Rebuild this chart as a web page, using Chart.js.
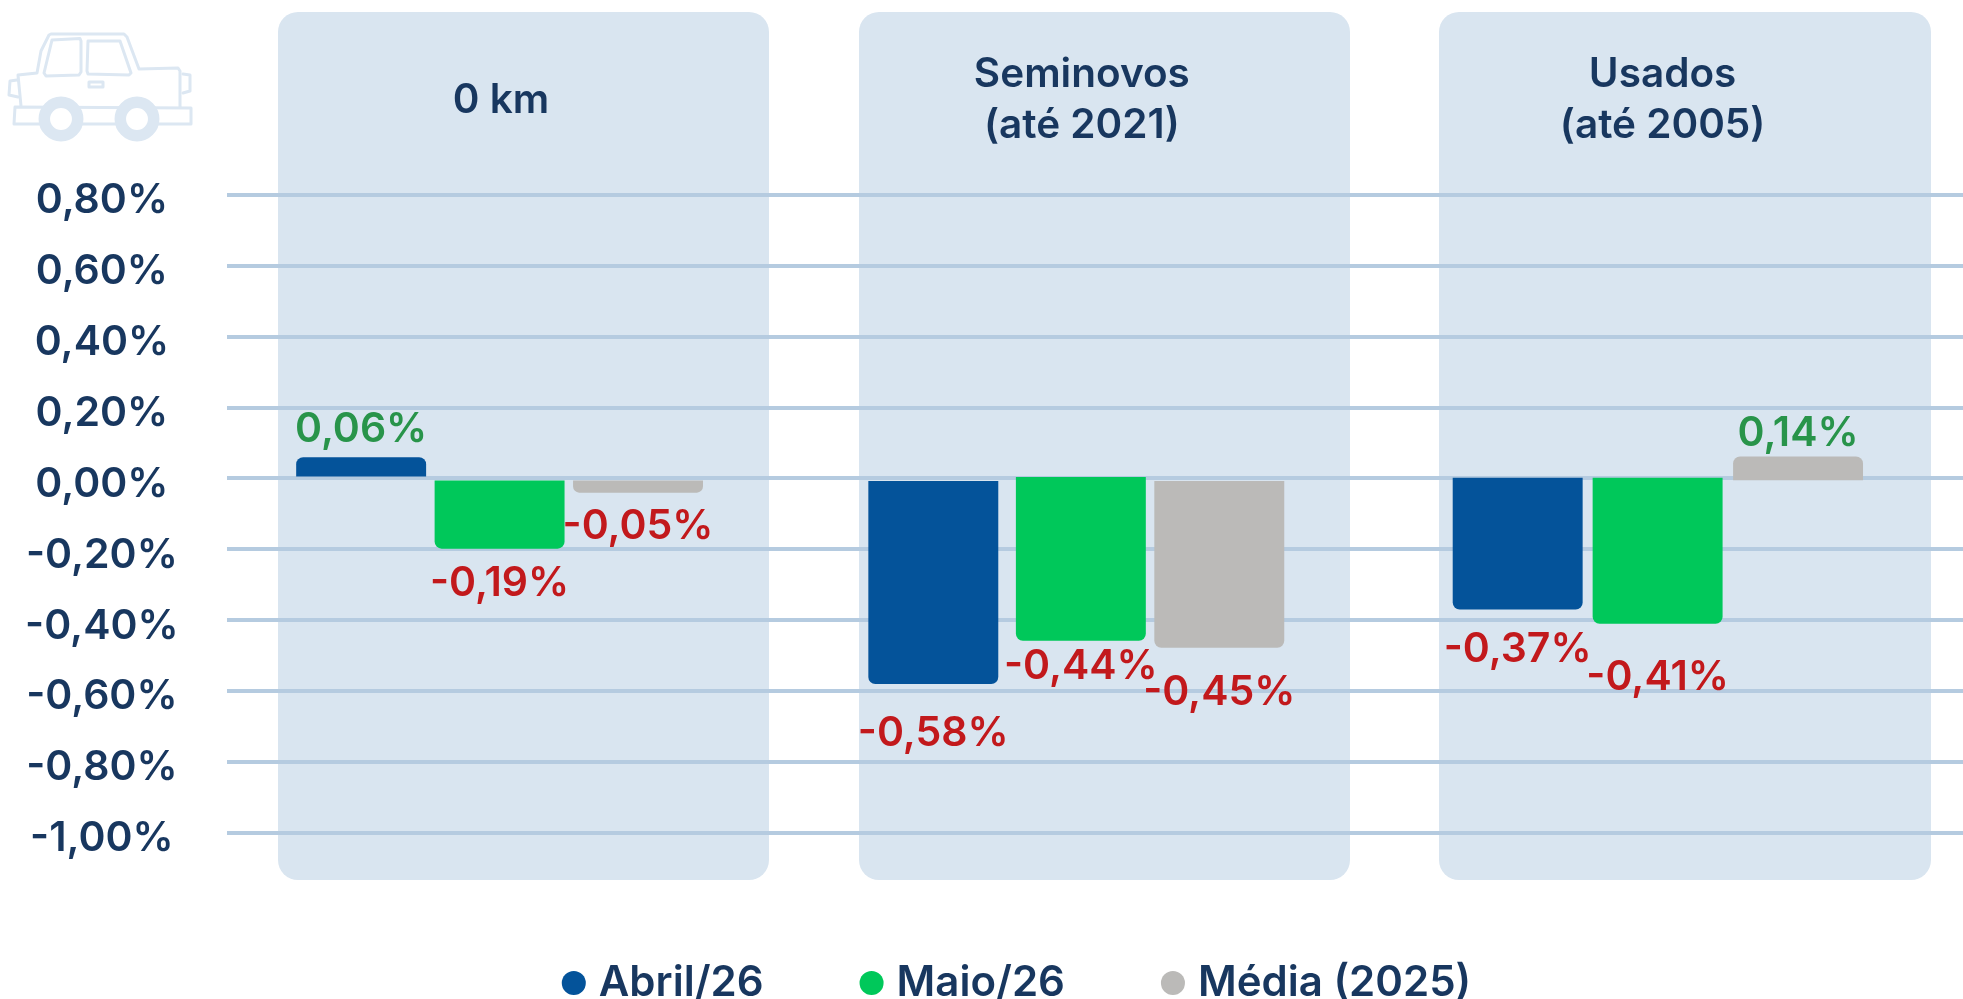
<!DOCTYPE html>
<html lang="pt-BR"><head><meta charset="utf-8">
<style>html,body{margin:0;padding:0;background:#fff;overflow:hidden}canvas{display:block}</style>
<script src="https://cdn.jsdelivr.net/npm/chart.js@4"></script></head>
<body><canvas id="c" width="1963" height="999"></canvas>
<script>
const categories = [['0 km'], ['Seminovos', '(até 2021)'], ['Usados', '(até 2005)']];
const seriesNames = ['Abril/26', 'Maio/26', 'Média (2025)'];
const abril = [0.06, [-0.007, -0.58], [0.002, -0.37]];
const maio = [-0.198, [0.004, -0.458], [0.002, -0.41]];
const media = [-0.04, [-0.007, -0.478], [-0.005, 0.062]];
const abrilLabels = ['0,06%', '-0,58%', '-0,37%'];
const maioLabels = ['-0,19%', '-0,44%', '-0,41%'];
const mediaLabels = ['-0,05%', '-0,45%', '0,14%'];
const tickLabels = ['-1,00%', '-0,80%', '-0,60%', '-0,40%', '-0,20%', '0,00%', '0,20%', '0,40%', '0,60%', '0,80%'];

const NAVY = '#18375f', GREEN = '#28944a', RED = '#c2191c', PALE = '#d9e5f0';
const FONT = 'Inter, Lato, sans-serif';
const panels = [[278, 769], [859, 1350], [1439, 1931]];
const barNudge = [[-17, -23.6, -18], [-16.5, -14, -16], [-16, -13.5, -13.5]];
const titleNudge = [-15, -13, -11];
const labelGap = [[-28, 50, 40], [35, 26, 54], [34, 45, -22.5]];
const labelText = [abrilLabels, maioLabels, mediaLabels];
const legendShift = 39;

function rr(ctx, x, y, w, h, r) { ctx.beginPath(); ctx.roundRect(x, y, w, h, r); ctx.fill(); }
function poly(ctx, pts, close) {
  ctx.beginPath(); pts.forEach((p, i) => i ? ctx.lineTo(p[0], p[1]) : ctx.moveTo(p[0], p[1]));
  if (close) ctx.closePath(); ctx.stroke();
}
function drawCar(ctx) {
  ctx.save();
  ctx.strokeStyle = '#dce7f2'; ctx.lineWidth = 3; ctx.lineJoin = 'round'; ctx.lineCap = 'round';
  poly(ctx, [[21, 106], [18, 75], [37, 73], [41, 51], [49, 35], [51, 34], [124, 34], [127, 37], [139, 69], [178, 68], [180, 71], [180, 107]]);
  poly(ctx, [[17, 80], [10, 81], [9, 95], [18, 97]]);
  poly(ctx, [[183, 74], [190, 75], [190, 91], [183, 93]]);
  poly(ctx, [[52, 40], [80, 38.5], [81, 41], [81, 72], [79, 75], [46, 76], [44, 73]], true);
  poly(ctx, [[88, 41], [120, 41], [131, 73], [129, 75], [88, 74], [87, 71]], true);
  poly(ctx, [[89, 82], [103, 82], [103, 87], [89, 87]], true);
  poly(ctx, [[15, 107], [191, 108], [191, 124], [14, 124]], true);
  ctx.lineWidth = 11.5;
  [[61, 119], [137, 119]].forEach(c => {
    ctx.fillStyle = '#fff'; ctx.beginPath(); ctx.arc(c[0], c[1], 16.7, 0, 2 * Math.PI); ctx.fill(); ctx.stroke();
  });
  ctx.restore();
}
const layoutPlugin = {
  id: 'layoutPlugin',
  afterLayout(chart) {
    chart.legend.left += legendShift; chart.legend.right += legendShift;
  },
  afterDatasetsUpdate(chart) {
    chart.data.datasets.forEach((d, s) => chart.getDatasetMeta(s).data.forEach((el, i) => { el.x += barNudge[s][i]; }));
  },
  beforeDraw(chart) {
    const ctx = chart.ctx;
    ctx.save(); ctx.fillStyle = PALE;
    panels.forEach(p => rr(ctx, p[0], 12, p[1] - p[0], 868, 20));
    ctx.restore();
    drawCar(ctx);
    const s = chart.scales.x;
    s.getLabelItems(chart.chartArea).forEach((it, i) => {
      if (!it._nudged) { it.options.translation[0] += titleNudge[i]; it._nudged = true; }
    });
  },
  afterDatasetsDraw(chart) {
    const ctx = chart.ctx;
    ctx.save(); ctx.font = '600 41px ' + FONT; ctx.textAlign = 'center'; ctx.textBaseline = 'middle';
    chart.data.datasets.forEach((d, s) => chart.getDatasetMeta(s).data.forEach((el, i) => {
      const t = labelText[s][i];
      ctx.fillStyle = t.startsWith('-') ? RED : GREEN;
      ctx.fillText(t, el.x, el.y + labelGap[s][i]);
    }));
    ctx.restore();
  }
};
new Chart(document.getElementById('c'), {
  type: 'bar',
  plugins: [layoutPlugin],
  data: {
    labels: categories,
    datasets: [
      { label: seriesNames[0], data: abril, backgroundColor: '#04539a' },
      { label: seriesNames[1], data: maio, backgroundColor: '#00c85a' },
      { label: seriesNames[2], data: media, backgroundColor: '#bbbab8' }
    ]
  },
  options: {
    responsive: false, animation: false, devicePixelRatio: 1,
    layout: { padding: { left: 0, right: 0, top: 0, bottom: -14.9 } },
    elements: { bar: { borderRadius: 7, borderSkipped: 'start', borderWidth: 0 } },
    datasets: { bar: { categoryPercentage: 0.715, barPercentage: 0.942 } },
    plugins: {
      tooltip: { enabled: false },
      legend: {
        display: true, position: 'bottom',
        title: { display: true, text: ' ', font: { size: 20.9 }, padding: 0 },
        labels: {
          usePointStyle: true, pointStyle: 'circle', boxWidth: 8, boxHeight: 17, padding: 104,
          color: NAVY, font: { family: FONT, size: 42, weight: '600' }
        }
      }
    },
    scales: {
      x: {
        position: 'top',
        grid: { display: false, drawTicks: false }, border: { display: false },
        afterFit(s) { s.height = 195; },
        ticks: { color: NAVY, padding: 69, crossAlign: 'center', maxRotation: 0, autoSkip: false,
          font: { family: FONT, size: 40.5, weight: '600', lineHeight: 1.26 } }
      },
      y: {
        min: -1, max: 0.8,
        grid: { color: '#b5cbe0', lineWidth: 4, drawTicks: false }, border: { display: false },
        afterFit(s) { s.width = 226.7; },
        ticks: { stepSize: 0.2, color: NAVY, padding: 48, crossAlign: 'center', labelOffset: 6,
          callback: (v, i) => tickLabels[i],
          font: { family: FONT, size: 41, weight: '600' } }
      }
    }
  }
});
</script></body></html>
